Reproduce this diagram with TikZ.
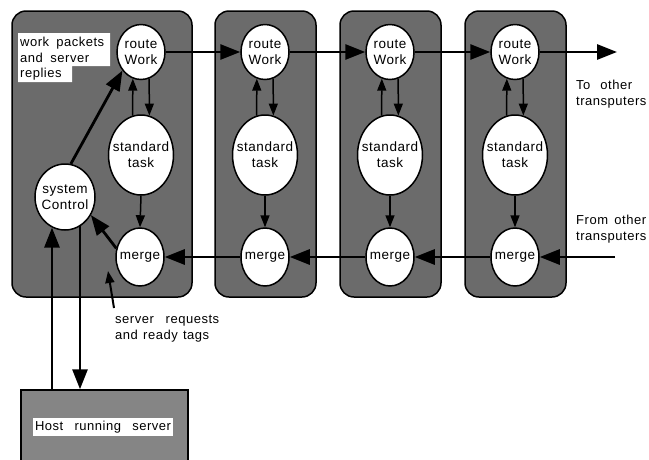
\documentclass[tikz,border=0pt]{standalone}
\usepackage{fontspec}
\setmainfont{Liberation Sans}[LetterSpace=4]
\usetikzlibrary{arrows.meta,calc,shapes.geometric}
\begin{document}
\begin{tikzpicture}[x=1pt,y=-1pt,
  box/.style={draw=black,line width=1.5pt,fill=black!58,rounded corners=14pt,inner sep=0pt},
  hostbox/.style={draw=black,line width=1.5pt,fill=black!48,inner sep=0pt},
  ptext/.style={font=\fontsize{13.5}{16}\selectfont,align=center,inner sep=0pt},
  proc/.style={ellipse,draw=black,line width=1.5pt,fill=white,inner sep=0pt},
  routeW/.style={proc,minimum width=48,minimum height=55,label={[ptext]center:route\\Work}},
  stdT/.style={proc,minimum width=65,minimum height=80,label={[ptext]center:standard\\task}},
  mergeN/.style={proc,minimum width=48,minimum height=58,label={[ptext]center:merge}},
  big/.style={line width=2.8pt,-{Triangle[length=20pt,width=15pt]}},
  small/.style={line width=1.5pt,-{Triangle[length=12pt,width=9pt]}},
  lbl/.style={font=\fontsize{13}{15.5}\selectfont,align=left,inner sep=0pt}
]
\useasboundingbox (0,0) rectangle (649,459);
\clip (0,0) rectangle (649,459);

% transputer boxes
\node[box,minimum width=180,minimum height=286] (b1) at (102,154) {};
\node[box,minimum width=101,minimum height=286] (b2) at (265.5,154) {};
\node[box,minimum width=101,minimum height=286] (b3) at (390.5,154) {};
\node[box,minimum width=101,minimum height=286] (b4) at (515.5,154) {};

% host box
\node[hostbox,minimum width=167,minimum height=90] (host) at (104.5,435) {};
\node[lbl,fill=white,inner xsep=2pt,inner ysep=3pt] (hostlbl) at (103,427) {\makebox[136pt][s]{Host running server}};

% white label area
\fill[white] (18,33) -| (110,66) -| (72,82) -| cycle;
\node[lbl,anchor=north west] (wp) at (20,37) {\makebox[84pt][s]{work packets}\\\makebox[69pt][s]{and server}\\replies};

% processes
\node[routeW] (r1) at (141,52) {};
\node[stdT]   (s1) at (141,155) {};
\node[mergeN] (m1) at (140,257) {};
\node[proc,minimum width=60,minimum height=66,label={[ptext]center:system\\Control}] (sc) at (65,197) {};

\node[routeW] (r2) at (265,52) {};
\node[stdT]   (s2) at (265,155) {};
\node[mergeN] (m2) at (265,257) {};

\node[routeW] (r3) at (390,52) {};
\node[stdT]   (s3) at (390,155) {};
\node[mergeN] (m3) at (390,257) {};

\node[routeW] (r4) at (515,52) {};
\node[stdT]   (s4) at (515,155) {};
\node[mergeN] (m4) at (515,257) {};

% inner arrows
\foreach \k in {1,2,3,4}{
  \draw[small] (s\k.102) -- (r\k.-107);
  \draw[small] (r\k.-73) -- (s\k.78);
  \draw[small] (s\k.south) -- (m\k.north);
}

% work flow
\coordinate (out) at (617,52);
\coordinate (in) at (615,257);
\draw[big] (r1.east) -- (r2.west);
\draw[big] (r2.east) -- (r3.west);
\draw[big] (r3.east) -- (r4.west);
\draw[big] (r4.east) -- (out);
\draw[big] (in) -- (m4.east);
\draw[big] (m4.west) -- (m3.east);
\draw[big] (m3.west) -- (m2.east);
\draw[big] (m2.west) -- (m1.east);

% system control links
\draw[big] (sc.80) -- (r1.-135);
\draw[big] (m1.160) -- (sc.-35);
\draw[big] (host.north -| sc.-113) -- (sc.-113);
\draw[big] (sc.-63) -- (host.north -| sc.-63);

% labels
\node[lbl,anchor=north west] (toot) at (576,80) {\makebox[56pt][s]{To other}\\transputers};
\node[lbl,anchor=north west] (frot) at (576,215) {\makebox[70pt][s]{From other}\\transputers};
\node[lbl,anchor=north west] (req) at (115,315) {\makebox[104pt][s]{server requests}\\\makebox[94pt][s]{and ready tags}};
\coordinate (pb) at (114,308);
\coordinate (pt) at (108,271);
\draw[line width=2pt,-{Triangle[length=12pt,width=9pt]}] (pb) -- (pt);
\end{tikzpicture}
\end{document}
